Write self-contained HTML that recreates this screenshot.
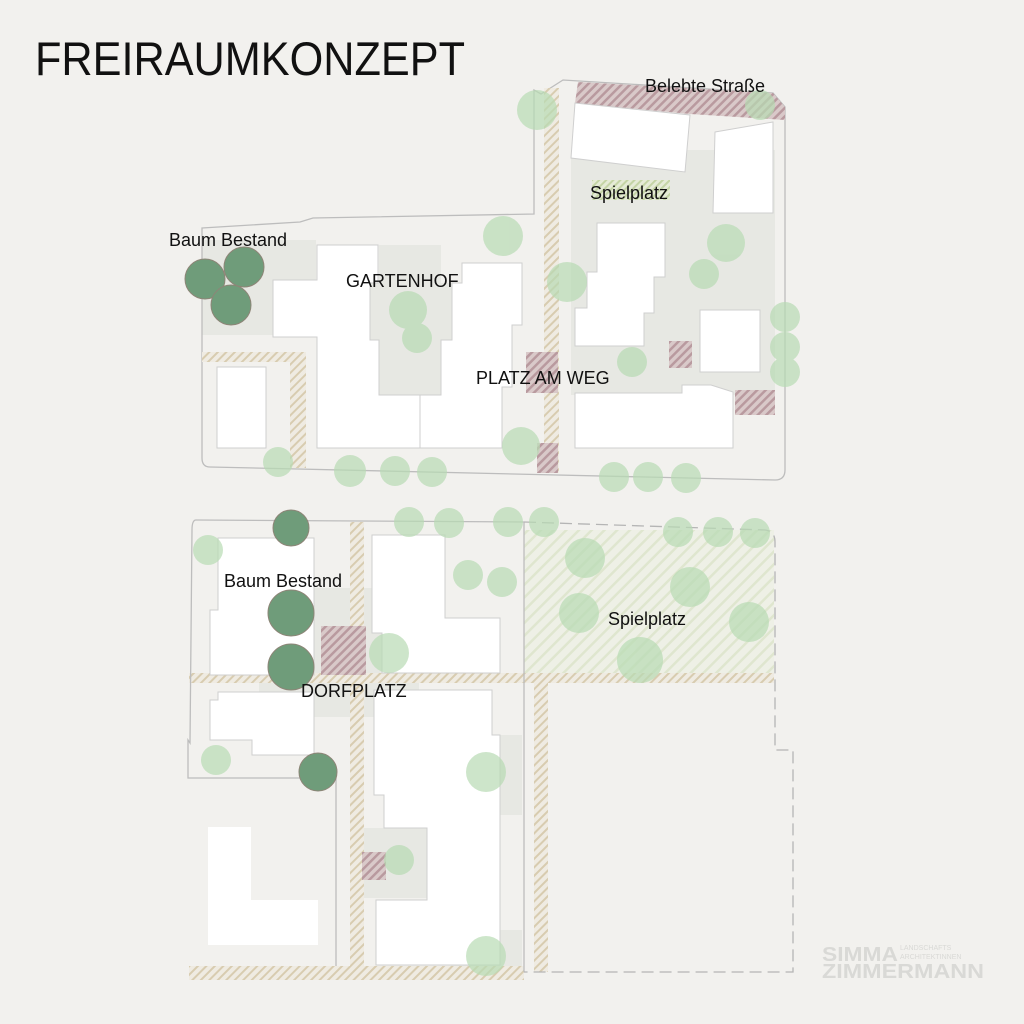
<!DOCTYPE html>
<html><head><meta charset="utf-8"><style>
html,body{margin:0;padding:0;background:#f2f1ee;}
svg{display:block;}
text{font-family:"Liberation Sans",sans-serif;}
</style></head><body>
<svg width="1024" height="1024" viewBox="0 0 1024 1024" xmlns="http://www.w3.org/2000/svg">
<defs>
<pattern id="tan" width="6" height="6" patternUnits="userSpaceOnUse" patternTransform="rotate(45)">
<rect width="6" height="6" fill="#efebe2"/><rect width="2" height="6" fill="#d8ccb0"/></pattern>
<pattern id="red" width="6" height="6" patternUnits="userSpaceOnUse" patternTransform="rotate(45)">
<rect width="6" height="6" fill="#d9c9c9"/><rect width="2.5" height="6" fill="#b99a9f"/></pattern>
<pattern id="grn" width="9" height="9" patternUnits="userSpaceOnUse" patternTransform="rotate(45)">
<rect width="9" height="9" fill="#eef0e6"/><rect width="2.5" height="9" fill="#dfe6cf"/></pattern>
<pattern id="grn2" width="5" height="5" patternUnits="userSpaceOnUse" patternTransform="rotate(45)">
<rect width="5" height="5" fill="#e4ecd0"/><rect width="2" height="5" fill="#b5cc8a"/></pattern>
</defs>
<rect width="1024" height="1024" fill="#f2f1ee"/>
<text x="35" y="75" font-size="47" textLength="430" lengthAdjust="spacingAndGlyphs" fill="#111">FREIRAUMKONZEPT</text>

<!-- TOP BLOCK -->
<g fill="#e7e8e3">
<rect x="202" y="240" width="114" height="95"/>
<polygon points="379,245 441,245 441,283 452,283 452,340 441,340 441,395 379,395 379,340 370,340 370,283 379,283"/>
<polygon points="571,150 775,150 775,395 571,395"/>
</g>
<path d="M202,228 L300,222 L313,218 L534,214 L534,90 L541,94 L563,80 L773,93 L785,107 L785,470 Q785,480 775,480 L210,467 Q202,467 202,458 Z" fill="none" stroke="#bdbdbd" stroke-width="1.3"/>
<polygon points="578,82 773,93 785,107 785,120 690,114 575,103" fill="url(#red)"/>
<rect x="544" y="88" width="15" height="385" fill="url(#tan)"/>
<rect x="202" y="352" width="104" height="10" fill="url(#tan)"/>
<rect x="290" y="352" width="16" height="116" fill="url(#tan)"/>
<rect x="592" y="180" width="78" height="20" fill="url(#grn2)" opacity="0.7"/>
<g fill="url(#red)">
<rect x="526" y="352" width="32" height="41"/>
<rect x="537" y="443" width="21" height="30"/>
<rect x="669" y="341" width="23" height="27"/>
<rect x="735" y="390" width="40" height="25"/>
</g>
<g fill="#fff" stroke="#cfcfcf" stroke-width="1">
<polygon points="575,103 690,115 685,172 571,158"/>
<polygon points="715,132 773,122 773,213 713,213"/>
<polygon points="317,245 378,245 378,283 370,283 370,340 379,340 379,395 420,395 420,448 317,448 317,337 273,337 273,280 317,280"/>
<polygon points="462,263 522,263 522,325 512,325 512,387 502,387 502,448 420,448 420,395 441,395 441,340 452,340 452,283 462,283"/>
<rect x="217" y="367" width="49" height="81"/>
<polygon points="597,223 665,223 665,277 654,277 654,313 644,313 644,346 575,346 575,308 587,308 587,272 597,272"/>
<rect x="700" y="310" width="60" height="62"/>
<polygon points="575,393 682,393 682,385 711,385 733,392 733,448 575,448"/>
</g>

<!-- BOTTOM BLOCK -->
<rect x="524" y="530" width="250" height="153" fill="url(#grn)"/>
<g fill="#e7e8e3">
<rect x="259" y="588" width="160" height="129"/>
<rect x="449" y="735" width="73" height="80"/>
<rect x="362" y="828" width="65" height="70"/>
<rect x="451" y="930" width="71" height="42"/>
</g>
<rect x="189" y="673" width="585" height="10" fill="url(#tan)"/>
<rect x="350" y="522" width="14" height="450" fill="url(#tan)"/>
<rect x="534" y="683" width="14" height="289" fill="url(#tan)"/>
<rect x="189" y="966" width="335" height="14" fill="url(#tan)"/>
<g fill="url(#red)">
<rect x="321" y="626" width="45" height="49"/>
<rect x="362" y="852" width="24" height="28"/>
</g>
<path d="M524,522 L196,520 Q192,520 192,530 L190,743 L188,740 L188,778 L336,778 L336,966" fill="none" stroke="#bdbdbd" stroke-width="1.3"/>
<line x1="524" y1="522" x2="524" y2="972" stroke="#bdbdbd" stroke-width="1.3"/>
<path d="M524,522 L765,530 Q775,531 775,542 L775,750 L793,750 L793,972 L524,972" fill="none" stroke="#b5b5b5" stroke-width="1.3" stroke-dasharray="12,6"/>
<g fill="#fff" stroke="#cfcfcf" stroke-width="1">
<polygon points="227,538 314,538 314,675 210,675 210,610 218,610 218,538"/>
<polygon points="218,692 314,692 314,755 252,755 252,740 210,740 210,700 218,700"/>
<polygon points="372,535 445,535 445,618 500,618 500,673 382,673 382,633 372,633"/>
<polygon points="374,690 492,690 492,735 500,735 500,965 376,965 376,900 427,900 427,828 384,828 384,795 374,795"/>
</g>
<g fill="#fff">
<rect x="208" y="827" width="43" height="118"/>
<rect x="208" y="900" width="110" height="45"/>
</g>

<!-- light trees -->
<g fill="#b8dbb4" opacity="0.7">
<circle cx="537" cy="110" r="20"/><circle cx="760" cy="105" r="15"/>
<circle cx="503" cy="236" r="20"/><circle cx="567" cy="282" r="20"/>
<circle cx="408" cy="310" r="19"/><circle cx="417" cy="338" r="15"/>
<circle cx="726" cy="243" r="19"/><circle cx="704" cy="274" r="15"/>
<circle cx="785" cy="317" r="15"/><circle cx="785" cy="347" r="15"/><circle cx="785" cy="372" r="15"/>
<circle cx="632" cy="362" r="15"/><circle cx="521" cy="446" r="19"/>
<circle cx="278" cy="462" r="15"/><circle cx="350" cy="471" r="16"/><circle cx="395" cy="471" r="15"/><circle cx="432" cy="472" r="15"/>
<circle cx="614" cy="477" r="15"/><circle cx="648" cy="477" r="15"/><circle cx="686" cy="478" r="15"/>
<circle cx="409" cy="522" r="15"/><circle cx="449" cy="523" r="15"/><circle cx="508" cy="522" r="15"/><circle cx="544" cy="522" r="15"/>
<circle cx="678" cy="532" r="15"/><circle cx="718" cy="532" r="15"/><circle cx="755" cy="533" r="15"/>
<circle cx="208" cy="550" r="15"/><circle cx="468" cy="575" r="15"/><circle cx="502" cy="582" r="15"/>
<circle cx="585" cy="558" r="20"/><circle cx="690" cy="587" r="20"/><circle cx="579" cy="613" r="20"/>
<circle cx="749" cy="622" r="20"/><circle cx="640" cy="660" r="23"/>
<circle cx="389" cy="653" r="20"/><circle cx="216" cy="760" r="15"/>
<circle cx="486" cy="772" r="20"/><circle cx="399" cy="860" r="15"/><circle cx="486" cy="956" r="20"/>
</g>
<!-- existing trees -->
<g fill="#6f9c7a" stroke="#8d8577" stroke-width="1">
<circle cx="205" cy="279" r="20"/><circle cx="244" cy="267" r="20"/><circle cx="231" cy="305" r="20"/>
<circle cx="291" cy="528" r="18"/><circle cx="291" cy="613" r="23"/><circle cx="291" cy="667" r="23"/><circle cx="318" cy="772" r="19"/>
</g>

<g fill="#111" font-size="18">
<text x="645" y="92">Belebte Straße</text>
<text x="590" y="199">Spielplatz</text>
<text x="169" y="246">Baum Bestand</text>
<text x="346" y="287">GARTENHOF</text>
<text x="476" y="384">PLATZ AM WEG</text>
<text x="224" y="587">Baum Bestand</text>
<text x="608" y="625">Spielplatz</text>
<text x="301" y="697">DORFPLATZ</text>
</g>
<g fill="#d9d9d6" font-weight="bold">
<text x="822" y="961" font-size="20" textLength="76" lengthAdjust="spacingAndGlyphs">SIMMA</text>
<text x="822" y="978" font-size="20" textLength="162" lengthAdjust="spacingAndGlyphs">ZIMMERMANN</text>
<text x="900" y="950" font-size="7" font-weight="normal">LANDSCHAFTS</text>
<text x="900" y="959" font-size="7" font-weight="normal">ARCHITEKTINNEN</text>
</g>
</svg>
</body></html>
